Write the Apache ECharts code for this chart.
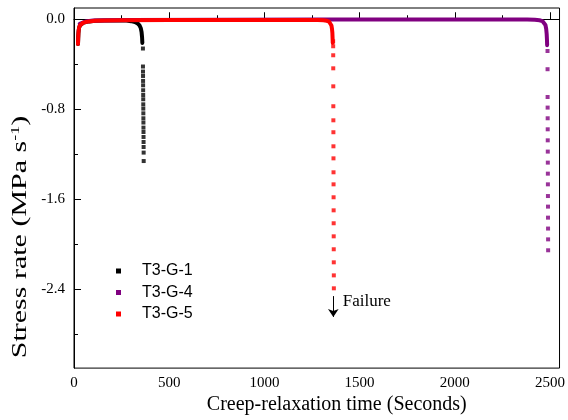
<!DOCTYPE html>
<html>
<head>
<meta charset="utf-8">
<script src="https://cdn.jsdelivr.net/npm/echarts@6/dist/echarts.min.js"></script>
<style>html,body{margin:0;padding:0;background:#fff}#c{width:568px;height:420px}</style>
</head>
<body>
<div id="c"></div>
<script>
// ---- tick values ----
const xMajorTicks = [0, 500, 1000, 1500, 2000, 2500];
const xMinorTicks = [250, 750, 1250, 1750, 2250];
const yMajorTicks = [0, -0.8, -1.6, -2.4];
const yMinorTicks = [-0.4, -1.2, -2.0, -2.8];

// ---- T3-G-1 (black) ----
const g1Time = [21, 22, 23, 24.5, 27, 31, 37, 47, 60, 80, 110, 160, 250, 275, 300, 320, 334, 344, 351, 355, 357.5, 359];
const g1Rate = [-0.22, -0.17, -0.13, -0.1, -0.075, -0.055, -0.042, -0.032, -0.025, -0.019, -0.014, -0.011, -0.01, -0.012, -0.017, -0.025, -0.037, -0.055, -0.08, -0.115, -0.16, -0.21];
const g1DropTime = [362, 362.2, 362.4, 362.6, 362.8, 363, 363.2, 363.4, 363.6, 363.8, 364, 364.2, 364.4, 364.6, 364.8, 365, 365.2, 365.4, 365.6, 365.8, 366];
const g1DropRate = [-0.26, -0.42, -0.465, -0.504, -0.548, -0.587, -0.631, -0.673, -0.711, -0.756, -0.794, -0.836, -0.88, -0.918, -0.963, -1.002, -1.046, -1.091, -1.135, -1.185, -1.26];

// ---- T3-G-4 (purple) ----
const g4Time = [30, 60, 100, 300, 800, 1300, 1800, 2200, 2380, 2420, 2445, 2460, 2470, 2476, 2480, 2482.5, 2484, 2485];
const g4Rate = [-0.04, -0.02, -0.012, -0.006, -0.004, -0.003, -0.002, -0.002, -0.003, -0.005, -0.009, -0.016, -0.028, -0.05, -0.085, -0.13, -0.18, -0.23];
const g4DropTime = [2487, 2487.2, 2487.4, 2487.6, 2487.8, 2488, 2488.2, 2488.4, 2488.6, 2488.8, 2489, 2489.2, 2489.4, 2489.6, 2489.8, 2490, 2490.2];
const g4DropRate = [-0.282, -0.444, -0.691, -0.785, -0.88, -0.978, -1.076, -1.176, -1.274, -1.372, -1.467, -1.571, -1.665, -1.763, -1.86, -1.956, -2.053];

// ---- T3-G-5 (red) ----
const g5Time = [21, 22, 23, 24.5, 27, 31, 37, 47, 60, 80, 110, 160, 250, 500, 800, 1100, 1280, 1310, 1328, 1340, 1347, 1352, 1355, 1357, 1358.2, 1359];
const g5Rate = [-0.22, -0.17, -0.13, -0.1, -0.075, -0.055, -0.042, -0.032, -0.025, -0.019, -0.014, -0.011, -0.008, -0.006, -0.006, -0.006, -0.007, -0.009, -0.014, -0.022, -0.035, -0.055, -0.085, -0.12, -0.17, -0.21];
const g5DropTime = [1361, 1361.2, 1361.4, 1361.6, 1361.8, 1362, 1362.2, 1362.4, 1362.6, 1362.8, 1363, 1363.2, 1363.4, 1363.6, 1363.8, 1364, 1364.2, 1364.4, 1364.6, 1364.8];
const g5DropRate = [-0.196, -0.24, -0.32, -0.436, -0.596, -0.773, -0.898, -1.004, -1.129, -1.236, -1.36, -1.467, -1.582, -1.698, -1.813, -1.929, -2.044, -2.16, -2.276, -2.391];

// ---- annotation ----
const failureArrow = [[1362, -2.46], [1362, -2.645]];
const failureLabel = [1538, -2.507];

const colors = { 'T3-G-1': '#000000', 'T3-G-4': '#800080', 'T3-G-5': '#ff0000' };
const zip = (a, b) => a.map((v, i) => [v, b[i]]);

const serif = '"Liberation Serif", "Times New Roman", serif';
const sans = '"Liberation Sans", Arial, sans-serif';

function lineSeries(name, t, r, extra) {
  return Object.assign({
    name: name, type: 'line', data: zip(t, r), xAxisIndex: 0, yAxisIndex: 0,
    showSymbol: false, symbol: 'none', smooth: false,
    lineStyle: { color: colors[name], width: 4, cap: 'round', join: 'round' },
    itemStyle: { color: colors[name] }, animation: false, z: 2
  }, extra || {});
}
function dotSeries(name, t, r) {
  return {
    name: name, type: 'scatter', data: zip(t, r), xAxisIndex: 0, yAxisIndex: 0,
    symbol: 'rect', symbolSize: 4, itemStyle: { color: colors[name] }, animation: false, z: 2
  };
}

const chart = echarts.init(document.getElementById('c'), null, { renderer: 'canvas' });
chart.setOption({
  backgroundColor: '#fff',
  animation: false,
  grid: { left: 74, right: 8, top: 8, bottom: 50, show: true, borderColor: '#000', borderWidth: 1, backgroundColor: 'transparent' },
  legend: {
    orient: 'vertical', left: 116, top: 263, padding: 0, itemGap: 5.5,
    itemWidth: 5, itemHeight: 5,
    data: [{ name: 'T3-G-1', icon: 'rect' }, { name: 'T3-G-4', icon: 'rect' }, { name: 'T3-G-5', icon: 'rect' }],
    textStyle: { fontFamily: sans, fontSize: 16, color: '#000', lineHeight: 16, padding: [0, 0, 0, 16] }
  },
  graphic: [{
    type: 'text', x: 21, y: 237, rotation: Math.PI / 2, scaleX: 1.5, scaleY: 1, silent: true,
    style: {
      text: '{a|Stress rate (MPa s}{sup|-1}{a|)}',
      align: 'center', verticalAlign: 'middle',
      rich: {
        a: { fontFamily: serif, fontSize: 20, fill: '#000', lineHeight: 22 },
        sup: { fontFamily: serif, fontSize: 12, fill: '#000', verticalAlign: 'top', lineHeight: 22 }
      }
    }
  }],
  xAxis: [
    {
      type: 'value', position: 'bottom', min: 0, max: 2550,
      name: 'Creep-relaxation time (Seconds)', nameLocation: 'middle', nameGap: 25,
      nameTextStyle: { fontFamily: serif, fontSize: 20, color: '#000', padding: [0, 0, 0, 40] },
      axisLine: { show: true, lineStyle: { color: '#000', width: 1 } },
      axisTick: { show: true, inside: true, length: 7, customValues: xMajorTicks, lineStyle: { color: '#000' } },
      axisLabel: { customValues: xMajorTicks, formatter: v => String(v), fontFamily: serif, fontSize: 15, color: '#000', margin: 7 },
      splitLine: { show: false }
    },
    {
      type: 'value', position: 'bottom', min: 0, max: 2550,
      axisLine: { show: false },
      axisTick: { show: true, inside: true, length: 4, customValues: xMinorTicks, lineStyle: { color: '#000' } },
      axisLabel: { show: false }, splitLine: { show: false }
    }
  ],
  yAxis: [
    {
      type: 'value', position: 'left', min: -3.1, max: 0.1,
      axisLine: { show: true, lineStyle: { color: '#000', width: 1 } },
      axisTick: { show: true, inside: true, length: 7, customValues: yMajorTicks, lineStyle: { color: '#000' } },
      axisLabel: { customValues: yMajorTicks, formatter: v => v.toFixed(1), fontFamily: serif, fontSize: 15, color: '#000', margin: 9 },
      splitLine: { show: false }
    },
    {
      type: 'value', position: 'left', min: -3.1, max: 0.1,
      axisLine: { show: false },
      axisTick: { show: true, inside: true, length: 4, customValues: yMinorTicks, lineStyle: { color: '#000' } },
      axisLabel: { show: false }, splitLine: { show: false }
    }
  ],
  series: [
    lineSeries('T3-G-1', g1Time, g1Rate),
    dotSeries('T3-G-1', g1DropTime, g1DropRate),
    lineSeries('T3-G-4', g4Time, g4Rate),
    dotSeries('T3-G-4', g4DropTime, g4DropRate),
    lineSeries('T3-G-5', g5Time, g5Rate, {
      markLine: {
        silent: true, symbol: ['none', 'arrow'], symbolSize: 8, animation: false,
        lineStyle: { color: '#000', width: 1, type: 'solid' },
        itemStyle: { color: '#000' },
        label: { show: false },
        data: [[{ coord: failureArrow[0] }, { coord: failureArrow[1] }]]
      },
      markPoint: {
        silent: true, symbol: 'rect', symbolSize: 1, animation: false,
        itemStyle: { color: 'rgba(0,0,0,0)' },
        label: { show: true, position: 'inside', formatter: 'Failure', fontFamily: serif, fontSize: 17, color: '#000' },
        data: [{ coord: failureLabel }]
      }
    }),
    dotSeries('T3-G-5', g5DropTime, g5DropRate)
  ]
});
</script>
</body>
</html>
